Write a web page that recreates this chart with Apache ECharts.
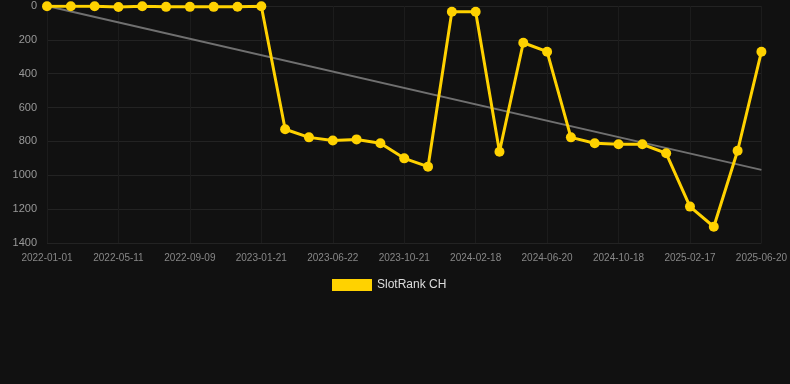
<!DOCTYPE html>
<html>
<head>
<meta charset="utf-8">
<script src="https://cdn.jsdelivr.net/npm/echarts@6/dist/echarts.min.js"></script>
<style>
  html, body { margin: 0; padding: 0; background: #111111; }
  #chart { width: 790px; height: 384px; }
</style>
</head>
<body>
<div id="chart"></div>
<script>
// dates on the x axis (every 3rd one is labelled)
var dates = [
    '2022-01-01', '2022-02-13', '2022-03-28', '2022-05-11', '2022-06-20', '2022-07-30',
    '2022-09-09', '2022-10-24', '2022-12-07', '2023-01-21', '2023-03-03', '2023-05-12',
    '2023-06-22', '2023-08-01', '2023-09-10', '2023-10-21', '2023-12-01', '2024-01-09',
    '2024-02-18', '2024-03-30', '2024-05-10', '2024-06-20', '2024-07-30', '2024-09-08',
    '2024-10-18', '2024-11-27', '2025-01-07', '2025-02-17', '2025-03-30', '2025-05-10',
    '2025-06-20'
];
// rank values
var ranks = [
    2, 1, 1, 6, 1, 5, 5, 5, 4, 2,
    728, 776, 795, 788, 811, 900, 949, 34, 34, 861,
    217, 270, 776, 811, 817, 817, 870, 1185, 1304, 855,
    270
];
// trend line end points
var trendStart = 0;
var trendEnd = 968;

var trend = dates.map(function (d, i) {
    if (i === 0) return trendStart;
    if (i === dates.length - 1) return trendEnd;
    return null;
});

var myChart = echarts.init(document.getElementById('chart'));

var option = {
    backgroundColor: '#111111',
    animation: false,
    grid: {
        left: 47,
        right: 28,
        top: 6,
        bottom: 141
    },
    legend: {
        bottom: 88,
        left: 327,
        data: ['SlotRank CH'],
        itemWidth: 40,
        itemHeight: 12,
        itemGap: 10,
        icon: 'rect',
        textStyle: { color: '#dddddd', fontSize: 12 }
    },
    xAxis: {
        type: 'category',
        data: dates,
        boundaryGap: false,
        axisLine: { show: false },
        axisTick: { show: false },
        axisLabel: {
            interval: 2,
            color: '#888888',
            fontSize: 10,
            margin: 10
        },
        splitLine: {
            show: true,
            interval: 2,
            lineStyle: { color: '#1c1c1c' }
        }
    },
    yAxis: {
        type: 'value',
        inverse: true,
        min: 0,
        max: 1400,
        interval: 200,
        axisLine: { show: false },
        axisTick: { show: false },
        axisLabel: {
            color: '#999999',
            fontSize: 11,
            margin: 10,
            formatter: function (v) { return String(v); }
        },
        splitLine: { lineStyle: { color: '#232323' } }
    },
    series: [
        {
            name: 'trend',
            type: 'line',
            data: trend,
            connectNulls: true,
            symbol: 'none',
            lineStyle: { color: '#707070', width: 2 },
            z: 1
        },
        {
            name: 'SlotRank CH',
            type: 'line',
            data: ranks,
            symbol: 'circle',
            symbolSize: 10,
            itemStyle: { color: '#FFD200' },
            lineStyle: { color: '#FFD200', width: 3 },
            z: 2
        }
    ]
};

myChart.setOption(option);
</script>
</body>
</html>
